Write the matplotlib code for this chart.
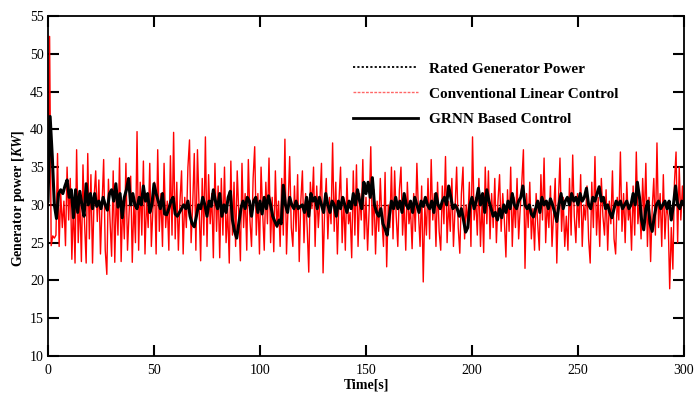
import numpy as np
import matplotlib
matplotlib.use("Agg")
import matplotlib.pyplot as plt
from matplotlib.lines import Line2D

plt.rcParams['font.family'] = ['Liberation Serif', 'DejaVu Serif']
plt.rcParams['mathtext.fontset'] = 'custom'
plt.rcParams['mathtext.it'] = 'Liberation Serif:italic:bold'
plt.rcParams['mathtext.rm'] = 'Liberation Serif:bold'

rated_power = 30.0

# Conventional linear control (red), sampled every 0.75 s from 0 to 300 s
conventional = [
    30.0, 52.3, 24.6, 25.9, 25.6, 26.0, 36.8, 24.5, 31.5, 27.0, 30.5, 24.6, 35.0, 28.0, 33.5, 22.8, 30.2, 22.3, 37.3, 25.0,
    31.0, 22.5, 35.3, 27.5, 22.3, 36.8, 25.5, 34.0, 22.3, 31.0, 34.5, 27.8, 33.3, 23.5, 30.0, 36.0, 24.0, 20.8, 33.4, 28.0,
    23.2, 34.5, 22.4, 32.0, 26.0, 36.2, 22.5, 30.5, 25.5, 35.5, 24.0, 29.0, 33.8, 22.4, 30.5, 25.0, 39.7, 24.0, 33.0, 26.0,
    35.8, 23.5, 31.0, 27.0, 35.5, 24.5, 29.5, 33.0, 23.5, 37.3, 26.5, 31.5, 24.5, 35.5, 27.0, 30.5, 24.0, 36.5, 26.0, 39.6,
    25.5, 33.0, 24.0, 30.5, 34.5, 23.5, 31.0, 27.0, 35.0, 38.6, 25.0, 30.0, 36.8, 24.0, 37.3, 30.0, 22.6, 33.5, 26.0, 39.0,
    24.5, 34.0, 27.5, 31.5, 23.0, 35.5, 26.5, 32.5, 23.0, 33.5, 26.0, 35.0, 25.0, 29.5, 22.3, 35.8, 26.0, 33.0, 24.5, 34.5,
    29.0, 22.6, 35.5, 27.0, 31.5, 24.0, 36.0, 28.0, 24.5, 33.5, 37.7, 26.0, 31.5, 23.5, 35.0, 29.0, 24.0, 33.0, 27.5, 36.2,
    25.0, 31.0, 23.8, 34.5, 27.0, 30.5, 24.5, 33.5, 26.0, 38.7, 23.5, 30.0, 36.4, 27.0, 24.5, 32.5, 26.5, 34.0, 22.5, 30.5,
    34.5, 25.0, 31.5, 27.0, 21.1, 33.0, 29.5, 35.0, 24.5, 32.5, 27.0, 30.5, 35.5, 21.0, 29.5, 33.5, 25.5, 31.0, 27.5, 38.2,
    26.5, 33.0, 23.5, 30.5, 35.0, 25.0, 31.0, 24.0, 33.5, 27.5, 29.0, 23.0, 34.5, 26.0, 35.3, 24.5, 31.5, 28.0, 36.0, 25.5,
    31.0, 24.0, 29.5, 37.7, 26.0, 32.0, 23.5, 30.5, 26.5, 33.5, 28.0, 24.5, 34.3, 21.8, 30.0, 27.0, 35.0, 25.5, 34.5, 28.5,
    24.5, 32.0, 35.0, 26.0, 30.5, 24.0, 33.0, 27.5, 29.5, 24.2, 31.5, 26.5, 35.5, 29.0, 24.5, 32.5, 19.8, 30.0, 26.0, 33.5,
    25.5, 36.0, 28.0, 31.5, 24.5, 33.0, 26.5, 24.0, 32.5, 27.5, 36.4, 25.0, 30.5, 26.5, 33.5, 24.5, 29.5, 35.0, 27.0, 23.6,
    31.5, 35.0, 25.5, 30.0, 27.5, 33.0, 24.5, 39.0, 28.0, 31.0, 26.0, 33.5, 24.5, 30.5, 23.7, 35.0, 27.5, 34.5, 25.5, 31.5,
    27.0, 33.5, 25.0, 30.5, 34.0, 26.5, 31.5, 28.0, 23.1, 32.0, 26.5, 35.0, 24.5, 31.0, 27.0, 33.5, 25.5, 29.5, 33.0, 37.3,
    21.6, 31.5, 27.0, 33.0, 25.5, 29.5, 24.0, 31.5, 27.5, 24.0, 34.0, 28.0, 36.2, 25.0, 30.5, 27.0, 32.5, 24.5, 29.0, 33.5,
    22.3, 30.5, 36.2, 26.5, 31.0, 24.5, 28.5, 24.0, 33.5, 26.0, 36.6, 28.5, 25.0, 31.5, 27.0, 34.0, 24.5, 30.0, 28.0, 32.5,
    25.5, 22.3, 33.0, 27.0, 36.4, 26.0, 31.0, 24.5, 33.5, 28.5, 26.0, 32.0, 24.0, 30.5, 27.5, 34.5, 25.5, 23.5, 31.0, 28.0,
    37.0, 26.5, 31.5, 25.0, 33.0, 28.0, 30.0, 24.0, 32.5, 26.0, 37.0, 27.5, 30.5, 25.5, 33.5, 28.0, 35.5, 24.5, 31.0, 22.5,
    29.5, 33.5, 26.0, 38.2, 27.0, 31.5, 24.5, 34.0, 25.5, 30.0, 28.5, 18.9, 27.0, 21.5, 33.0, 37.0, 25.0, 35.0, 28.0, 32.5,
    29.0,
]

# GRNN based control (black), sampled every 1 s from 0 to 300 s
grnn = [
    30.5, 41.7, 36.5, 30.0, 28.2, 31.5, 32.0, 31.5, 32.5, 33.3,
    31.0, 32.0, 28.3, 32.0, 29.0, 31.8, 30.0, 28.5, 32.8, 30.0,
    31.5, 29.5, 31.5, 29.8, 30.5, 29.5, 31.0, 30.0, 29.3, 31.5,
    32.0, 30.5, 32.8, 29.7, 31.5, 28.3, 31.0, 32.0, 33.5, 30.0,
    31.5, 30.0, 29.5, 31.0, 30.0, 32.5, 30.5, 31.5, 29.0, 30.0,
    32.8, 31.5, 30.5, 29.5, 31.5, 28.8, 28.7, 29.5, 30.5, 31.0,
    28.8, 28.5, 29.0, 29.5, 30.0, 29.5, 30.5, 28.5, 27.5, 27.1,
    28.5, 30.0, 29.5, 31.0, 30.0, 28.5, 30.5, 29.8, 32.0, 30.5,
    29.5, 31.5, 28.5, 30.0, 29.0, 31.0, 31.8, 28.0, 26.5, 25.6,
    27.5, 29.5, 30.5, 29.5, 31.0, 30.5, 28.5, 30.5, 31.0, 29.0,
    30.5, 28.8, 31.0, 29.5, 31.2, 30.0, 28.5, 27.8, 27.2, 28.0,
    27.5, 32.6, 30.0, 29.0, 31.0, 30.0, 29.5, 30.5, 29.5, 29.8,
    30.0, 29.0, 31.0, 28.5, 31.5, 30.5, 31.0, 29.5, 31.0, 30.0,
    29.0, 31.5, 30.0, 29.0, 30.5, 30.0, 28.5, 30.5, 29.5, 31.0,
    30.0, 29.0, 30.5, 29.5, 31.5, 30.0, 32.0, 30.5, 29.5, 33.0,
    31.5, 33.0, 31.0, 33.6, 30.0, 29.0, 28.5, 29.5, 27.5, 26.8,
    26.0, 28.5, 30.5, 29.5, 31.0, 29.5, 30.5, 29.0, 31.5, 30.0,
    29.5, 30.5, 29.0, 31.0, 30.0, 29.0, 30.5, 29.8, 31.0, 30.0,
    29.5, 30.5, 29.0, 31.5, 30.0, 29.5, 30.5, 31.0, 30.0, 32.5,
    31.0, 29.5, 30.0, 29.5, 28.5, 29.5, 28.0, 26.4, 27.0, 30.0,
    31.0, 29.5, 30.5, 32.2, 30.0, 31.5, 29.0, 32.0, 30.5, 29.5,
    28.5, 29.0, 28.0, 29.5, 28.3, 30.0, 29.0, 30.5, 29.5, 31.5,
    30.0, 29.5, 30.5, 31.0, 32.5, 30.0, 29.5, 30.0, 28.8, 28.4,
    29.5, 30.5, 29.0, 31.0, 30.0, 30.5, 29.5, 30.8, 30.0, 29.0,
    27.8, 30.0, 31.5, 29.5, 30.5, 31.0, 30.0, 31.5, 30.5, 31.0,
    30.0, 31.5, 30.5, 31.0, 32.2, 30.0, 29.5, 31.0, 30.5, 31.5,
    32.4, 30.5, 31.0, 29.5, 30.0, 29.0, 28.3, 29.5, 30.5, 30.0,
    30.5, 29.5, 30.0, 30.5, 29.5, 30.0, 31.5, 30.0, 33.0, 31.0,
    28.0, 26.7, 29.5, 30.5, 27.5, 26.5, 28.5, 30.0, 30.5, 29.5,
    30.0, 30.5, 29.5, 30.5, 28.0, 30.0, 32.5, 30.0, 29.5, 30.5,
    30.0,
]

x_ticks = [0, 50, 100, 150, 200, 250, 300]
y_ticks = [10, 15, 20, 25, 30, 35, 40, 45, 50, 55]
labels = ["Rated Generator Power", "Conventional Linear Control", "GRNN Based Control"]

t_red = np.linspace(0, 300, len(conventional))
t_blk = np.linspace(0, 300, len(grnn))

fig = plt.figure(figsize=(6.98, 3.97), dpi=100)
ax = fig.add_axes([48/698, 41/397, 636/698, 340/397])

ax.axhline(rated_power, color='black', lw=0.9, ls=(0, (1.5, 1.5)), zorder=1)
ax.plot(t_red, conventional, color='#ff0000', lw=1.0, zorder=2)
ax.plot(t_blk, grnn, color='black', lw=2.2, zorder=3)

ax.set_xlim(0, 300)
ax.set_ylim(10, 55)
ax.set_xticks(x_ticks)
ax.set_yticks(y_ticks)
ax.tick_params(direction='in', length=8, width=1.5, top=True, right=True,
               labelsize=10)
ax.tick_params(axis='x', pad=6)
ax.tick_params(axis='y', pad=3)
for s in ax.spines.values():
    s.set_linewidth(1.3)

ax.set_xlabel("Time[s]", fontsize=10, fontweight='bold', labelpad=1)
ax.set_ylabel(r"Generator power [$\mathit{KW}$]", fontsize=10, fontweight='bold',
              va='center')
ax.yaxis.set_label_coords(-0.047, 0.465)

handles = [
    Line2D([], [], color='black', lw=1.3, ls=(0, (1.2, 1.2))),
    Line2D([], [], color='#ff6666', lw=1.0, ls=(0, (2, 1))),
    Line2D([], [], color='black', lw=2.0),
]
ax.legend(handles, labels, loc='upper left', bbox_to_anchor=(0.479, 0.865),
          frameon=False, prop={'family': 'Liberation Serif', 'weight': 'bold', 'size': 11},
          handlelength=4.3, handletextpad=0.7, labelspacing=0.75, borderpad=0,
          borderaxespad=0)

fig.savefig("out.png", dpi=100)
